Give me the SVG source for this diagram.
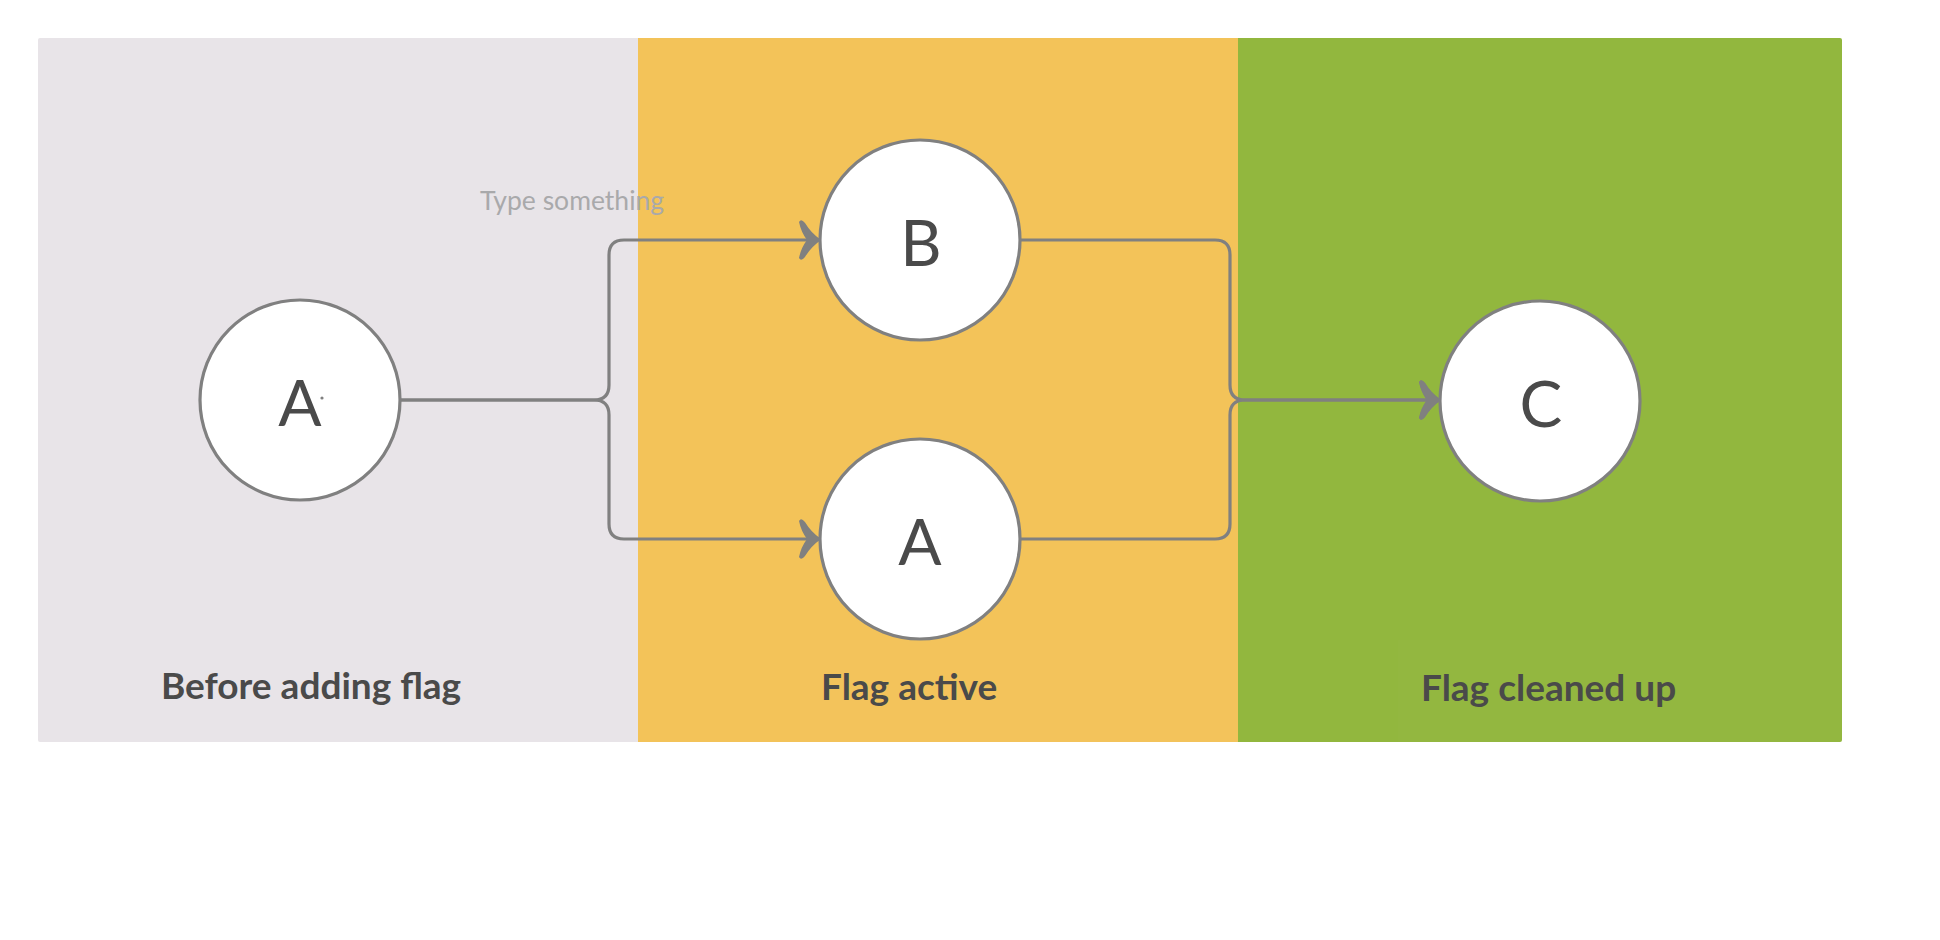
<svg xmlns="http://www.w3.org/2000/svg" width="1940" height="940" viewBox="0 0 1940 940">
  <defs>
    <style>
      .lane-label { font-family: Lato, "Liberation Sans", sans-serif; font-weight: 700; font-size: 37px; fill: #4a4a4a; }
      .node-circle { fill: #ffffff; stroke: #808080; stroke-width: 3.2; }
      .node-text { font-family: Lato, "Liberation Sans", sans-serif; font-size: 64px; fill: #4a4a4a; text-anchor: middle; }
      .conn { fill: none; stroke: #808080; stroke-width: 3.2; }
      .hint { font-family: Lato, "Liberation Sans", sans-serif; font-size: 26.5px; fill: #a9a9ab; }
    </style>
    <marker id="arrow" markerUnits="userSpaceOnUse" markerWidth="30" markerHeight="44" viewBox="-24 -22 26 44" refX="0" refY="0" orient="auto">
      <path d="M1,0 Q-9,-7 -15,-17 Q-19,-22 -21,-18 Q-19,-8 -13,0 Q-19,8 -21,18 Q-19,22 -15,17 Q-9,7 1,0 Z" fill="#808080"/>
    </marker>
  </defs>

  <rect width="1940" height="940" fill="#ffffff"/>

  <g id="lane-before">
    <path d="M40,38 H638 V742 H40 Q38,742 38,740 V40 Q38,38 40,38 Z" fill="#e8e4e8"/>
    <text class="lane-label" x="161" y="699">Before adding flag</text>
  </g>
  <g id="lane-active">
    <rect x="638" y="38" width="600" height="704" fill="#f3c359"/>
    <rect x="800" y="640" width="438" height="102" fill="#ffffff" fill-opacity="0.015"/>
    <text class="lane-label" x="821" y="700">Flag active</text>
  </g>
  <g id="lane-cleaned">
    <path d="M1238,38 H1840 Q1842,38 1842,40 V740 Q1842,742 1840,742 H1238 Z" fill="#92b73e"/>
    <rect x="1398" y="640" width="444" height="102" fill="#ffffff" fill-opacity="0.012"/>
    <text class="lane-label" x="1421" y="701">Flag cleaned up</text>
  </g>

  <text class="hint" x="480" y="210">Type something</text>

  <g id="connectors">
    <path class="conn" d="M400,400 H594 Q609,400 609,385 V255 Q609,240 624,240 H820" marker-end="url(#arrow)"/>
    <path class="conn" d="M400,400 H594 Q609,400 609,415 V524 Q609,539 624,539 H820" marker-end="url(#arrow)"/>
    <path class="conn" d="M1020,240 H1215 Q1230,240 1230,255 V385 Q1230,400 1245,400 H1440" marker-end="url(#arrow)"/>
    <path class="conn" d="M1020,539 H1215 Q1230,539 1230,524 V415 Q1230,400 1245,400 H1440" marker-end="url(#arrow)"/>
  </g>

  <g id="node-a-before">
    <circle class="node-circle" cx="300" cy="400" r="100"/>
    <text class="node-text" x="300" y="426">A</text>
    <circle cx="322" cy="398" r="1.6" fill="#808080"/>
  </g>
  <g id="node-b">
    <circle class="node-circle" cx="920" cy="240" r="100"/>
    <text class="node-text" x="921" y="266">B</text>
  </g>
  <g id="node-a-active">
    <circle class="node-circle" cx="920" cy="539" r="100"/>
    <text class="node-text" x="920" y="565">A</text>
  </g>
  <g id="node-c">
    <circle class="node-circle" cx="1540" cy="401" r="100"/>
    <text class="node-text" x="1541" y="427">C</text>
  </g>
</svg>
